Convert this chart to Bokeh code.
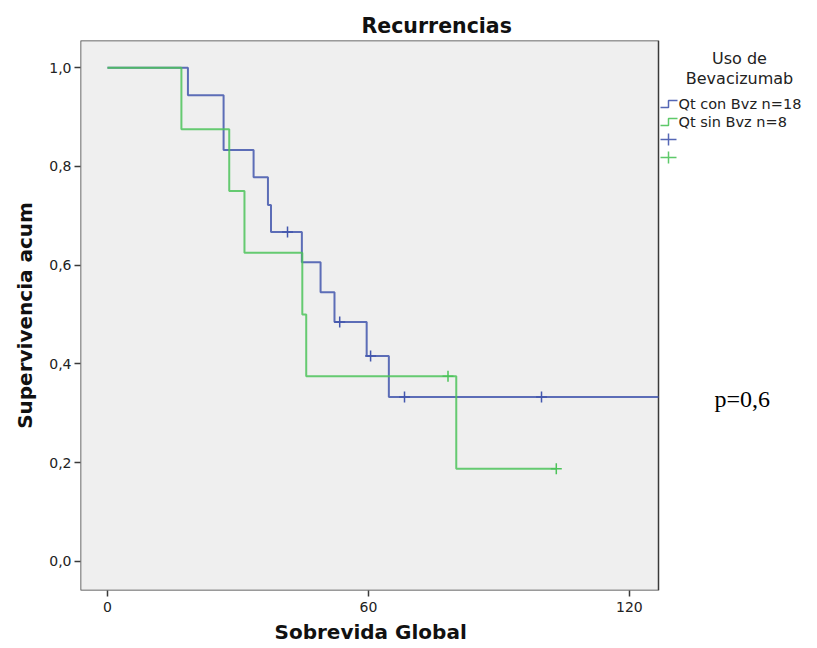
from bokeh.plotting import figure
from bokeh.models import (Range1d, FixedTicker, CustomJSTickFormatter, Label, PolyAnnotation,
                          BoxAnnotation, Title)
from bokeh.embed import file_html
from bokeh.resources import INLINE

# ---- data ----
con_t = [0, 18.5, 26.7, 33.6, 36.9, 37.6, 44.7, 49.0, 52.2, 59.6, 64.7]
con_s = [1.0, 0.944, 0.833, 0.778, 0.722, 0.667, 0.606, 0.545, 0.485, 0.416, 0.333]
con_cens_t = [41.4, 53.4, 60.5, 68.3, 99.8]
con_cens_s = [0.667, 0.485, 0.416, 0.333, 0.333]

sin_t = [0, 17.0, 28.0, 31.5, 44.8, 45.7, 80.2, 103.2]
sin_s = [1.0, 0.875, 0.75, 0.625, 0.5, 0.375, 0.1875, 0.1875]
sin_cens_t = [78.3, 103.2]
sin_cens_s = [0.375, 0.1875]

x_ticks = [0, 60, 120]
y_ticks = [0.0, 0.2, 0.4, 0.6, 0.8, 1.0]
legend_labels = ["Qt con Bvz n=18", "Qt sin Bvz n=8"]
legend_title = ["Uso de", "Bevacizumab"]
title = "Recurrencias"
x_label = "Sobrevida Global"
y_label = "Supervivencia acum"
p_text = "p=0,6"

BLUE = "#4256ad"
GREEN = "#4cc35a"
FONT = "DejaVu Sans"
EDGE = "#3a3a3a"

# frame geometry (pixels)
W, H = 817, 648
FL, FR, FT, FB = 80, 658, 40, 590
X0, X1 = -6.2, 126.7
Y0, Y1 = -0.059, 1.055

def px2x(px):
    return X0 + (px - FL) * (X1 - X0) / (FR - FL)

def py2y(py):
    return Y1 - (py - FT) * (Y1 - Y0) / (FB - FT)

p = figure(width=W, height=H, output_backend="svg", toolbar_location=None,
           x_range=Range1d(X0, px2x(W)), y_range=Range1d(Y0, Y1),
           min_border_left=FL, min_border_right=0,
           min_border_top=FT, min_border_bottom=H - FB)
p.background_fill_color = "white"
p.border_fill_color = "white"
p.outline_line_color = None
p.xgrid.visible = False
p.ygrid.visible = False

# the plot box (grey panel with dark edge)
p.add_layout(BoxAnnotation(left=X0, right=X1, bottom=Y0, top=Y1, fill_color="#efefef",
                           fill_alpha=1, line_color=EDGE, line_width=1.5, line_alpha=1,
                           level="underlay"))

for ax in (p.xaxis[0], p.yaxis[0]):
    ax.axis_line_color = None
    ax.major_tick_line_color = EDGE
    ax.major_tick_line_width = 1.5
    ax.major_tick_out = 6
    ax.major_tick_in = 0
    ax.minor_tick_line_color = None
    ax.major_label_text_font = FONT
    ax.major_label_text_font_size = "14px"
    ax.major_label_text_color = "#222222"
    ax.axis_label_text_font = FONT
    ax.axis_label_text_font_style = "bold"
    ax.axis_label_text_font_size = "20px"
    ax.axis_label_text_color = "#111111"

p.xaxis.ticker = FixedTicker(ticks=x_ticks)
p.yaxis.ticker = FixedTicker(ticks=y_ticks)
p.yaxis.formatter = CustomJSTickFormatter(code="return tick.toFixed(1).replace('.', ',');")
p.yaxis.axis_label = y_label
p.xaxis.major_label_standoff = 5
p.yaxis.major_label_standoff = 3
p.yaxis.axis_label_standoff = 9

# chart title, left-offset so it sits where the original has it
p.title.text = title
p.title.text_font = FONT
p.title.text_font_style = "bold"
p.title.text_font_size = "20.5px"
p.title.text_color = "#111111"
p.title.align = "left"
p.title.offset = 281
p.title.standoff = 6

# x-axis title, placed under the grey box
p.add_layout(Title(text=x_label, text_font=FONT, text_font_style="bold",
                   text_font_size="20px", text_color="#111111", align="left",
                   offset=194, standoff=6), "below")

# curves (blue group is followed up beyond the axis end)
p.step(con_t + [X1], con_s + [con_s[-1]], mode="after", line_color=BLUE, line_width=2, line_alpha=0.85)
p.step(sin_t, sin_s, mode="after", line_color=GREEN, line_width=2, line_alpha=0.85)
p.scatter(con_cens_t, con_cens_s, marker="cross", size=11, line_color=BLUE, line_width=1.5)
p.scatter(sin_cens_t, sin_cens_s, marker="cross", size=11, line_color=GREEN, line_width=1.5)

# legend
p.add_layout(Label(x=px2x(739), y=py2y(58), text=legend_title[0], text_font=FONT,
                   text_font_size="16px", text_align="center", text_baseline="middle",
                   text_color="#222222"))
p.add_layout(Label(x=px2x(739), y=py2y(78), text=legend_title[1], text_font=FONT,
                   text_font_size="16px", text_align="center", text_baseline="middle",
                   text_color="#222222"))
for i, (lab, col) in enumerate(zip(legend_labels, [BLUE, GREEN])):
    yc = 103 + 18 * i
    xs = [px2x(660), px2x(668), px2x(668), px2x(677), px2x(677), px2x(668), px2x(668), px2x(660)]
    ys = [py2y(yc + 4), py2y(yc + 4), py2y(yc - 3), py2y(yc - 3),
          py2y(yc - 3), py2y(yc - 3), py2y(yc + 4), py2y(yc + 4)]
    p.add_layout(PolyAnnotation(xs=xs, ys=ys, line_color=col, line_width=1.5,
                                fill_alpha=0, line_alpha=0.9))
    p.add_layout(Label(x=px2x(678), y=py2y(yc), text=lab, text_font=FONT,
                       text_font_size="14.5px", text_baseline="middle", text_color="#222222"))
for i, col in enumerate([BLUE, GREEN]):
    yc = 139 + 18 * i
    xs = [px2x(660), px2x(676), px2x(668), px2x(668), px2x(668), px2x(668)]
    ys = [py2y(yc), py2y(yc), py2y(yc), py2y(yc - 6), py2y(yc + 6), py2y(yc)]
    p.add_layout(PolyAnnotation(xs=xs, ys=ys, line_color=col, line_width=1.5,
                                fill_alpha=0, line_alpha=0.9))

# p-value
p.add_layout(Label(x=px2x(714), y=py2y(398), text=p_text, text_font="Liberation Serif",
                   text_font_size="24px", text_baseline="middle", text_color="#000000"))

open("out.html", "w").write(file_html(p, INLINE))
